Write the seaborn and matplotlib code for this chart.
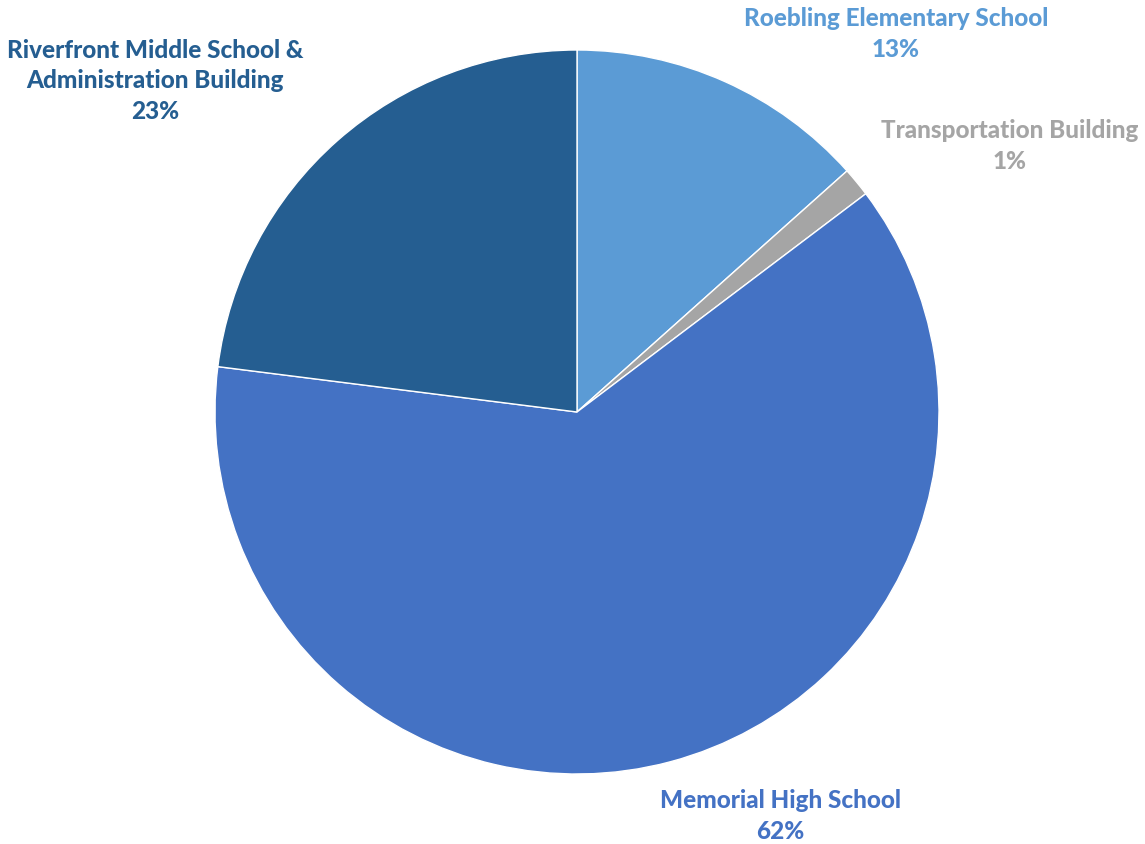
import matplotlib
matplotlib.use("Agg")
import matplotlib.pyplot as plt
import seaborn as sns

categories = ["Roebling Elementary School", "Transportation Building",
              "Memorial High School", "Riverfront Middle School &\nAdministration Building"]
values = [13.4, 1.3, 62.3, 23.0]
colors = ["#5B9BD5", "#A5A5A5", "#4472C4", "#255E91"]

sns.set_theme(style="white")
plt.rcParams['font.family'] = ['Lato', 'DejaVu Sans']

W, H = 1145, 845
fig = plt.figure(figsize=(W / 100, H / 100), dpi=100)
ax = fig.add_axes([0, 0, 1, 1])

cx, cy, r = 577, H - 413, 362
wedges, _ = ax.pie(values, colors=colors, startangle=90, counterclock=False,
                   center=(cx, cy), radius=r, frame=True,
                   wedgeprops=dict(edgecolor='white', linewidth=1.0))
ax.set_xlim(0, W)
ax.set_ylim(0, H)
ax.set_aspect('equal')
ax.axis('off')

label_pos = [(896, H - 34), (1010, H - 146), (780, H - 816), (155, H - 81)]
total = sum(values)
for cat, v, c, (x, y) in zip(categories, values, colors, label_pos):
    ax.text(x, y, f"{cat}\n{round(v / total * 100):.0f}%", color=c, fontsize=17.5,
            fontweight='black', ha='center', va='center', linespacing=1.42)

fig.savefig("out.png", dpi=100)
